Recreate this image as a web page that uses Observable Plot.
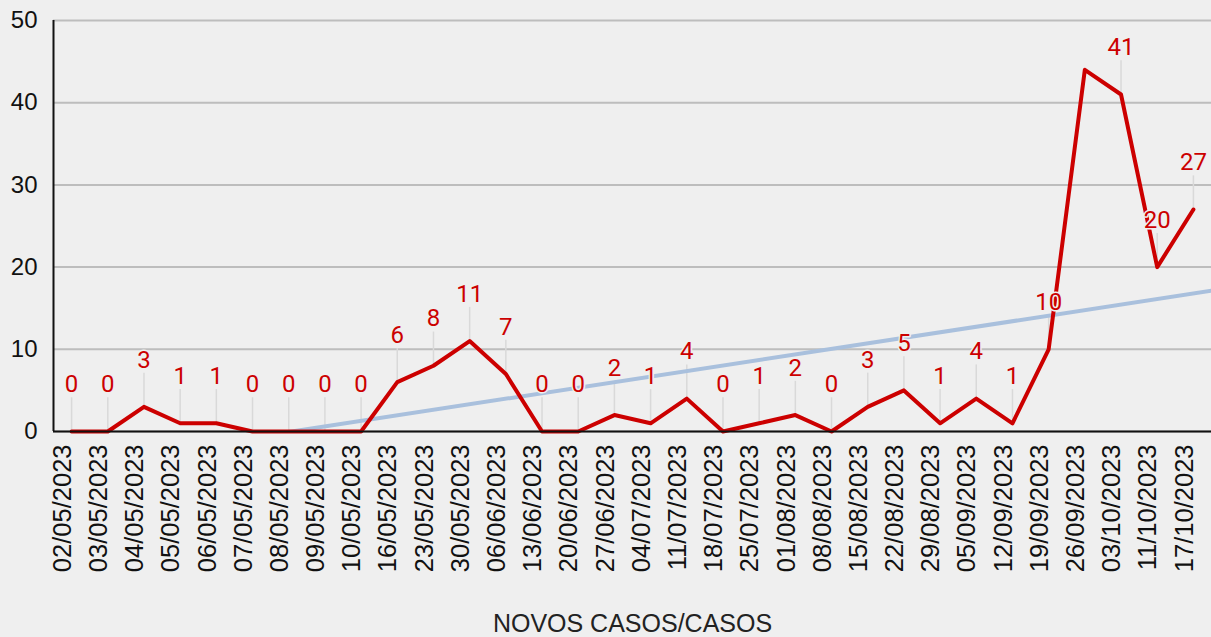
<!DOCTYPE html>
<html><head><meta charset="utf-8">
<script src="https://cdn.jsdelivr.net/npm/d3@7"></script>
<script src="https://cdn.jsdelivr.net/npm/@observablehq/plot@0.6"></script>
<style>
html,body{margin:0;padding:0;background:#efefef;}
#chart svg{display:block}
</style></head><body><div id="chart"></div>
<script>
const dates = ["02/05/2023","03/05/2023","04/05/2023","05/05/2023","06/05/2023","07/05/2023","08/05/2023","09/05/2023","10/05/2023","16/05/2023","23/05/2023","30/05/2023","06/06/2023","13/06/2023","20/06/2023","27/06/2023","04/07/2023","11/07/2023","18/07/2023","25/07/2023","01/08/2023","08/08/2023","15/08/2023","22/08/2023","29/08/2023","05/09/2023","12/09/2023","19/09/2023","26/09/2023","03/10/2023","11/10/2023","17/10/2023"];
const cases = [0,0,3,1,1,0,0,0,0,6,8,11,7,0,0,2,1,4,0,1,2,0,3,5,1,4,1,10,44,41,20,27];
const unlabeled = ["26/09/2023"];
const yTicks = [0,10,20,30,40,50];
const axisTitle = "NOVOS CASOS/CASOS";

const data = dates.map((d,i)=>({i, date:d, v:cases[i]}));
const labeled = data.filter(d=>!unlabeled.includes(d.date));
const n = data.length;
const mx = d3.mean(data, d=>d.i), my = d3.mean(data, d=>d.v);
const slope = d3.sum(data, d=>(d.i-mx)*(d.v-my))/d3.sum(data, d=>(d.i-mx)**2);
const icpt = my - slope*mx;
const trend = [-0.5, n-0.5].map(x=>({x, y: icpt+slope*x}));

const chart = Plot.plot({
  width:1211, height:637,
  marginTop:20, marginLeft:53, marginRight:0, marginBottom:206,
  style:{background:"#efefef", fontFamily:"'Liberation Sans', Arial, sans-serif", overflow:"visible"},
  x:{type:"linear", domain:[-0.5, n-0.5]},
  y:{domain:[0,50]},
  marks:[
    Plot.gridY(yTicks, {stroke:"#bdbdbd", strokeOpacity:1, strokeWidth:2}),
    Plot.axisY(yTicks, {tickSize:0, tickPadding:16, fontSize:24, fill:"#111", label:null}),
    Plot.axisX(d3.range(n), {tickSize:0, tickPadding:13, tickRotate:-90, tickFormat:i=>dates[i], fontSize:25.5, fill:"#111", label:null, dx:-9}),
    Plot.ruleX(labeled, {x:"i", y1:"v", y2:d=>d.v+4.1, stroke:"#d9d9d9", strokeWidth:1.5}),
    Plot.line(trend, {x:"x", y:"y", stroke:"#a9c0dd", strokeWidth:4, clip:true}),
    Plot.line(data, {x:"i", y:"v", stroke:"#cc0000", strokeWidth:4}),
    Plot.text(labeled, {x:"i", y:"v", text:d=>String(d.v), dy:-47, fill:"#cc0000", fontSize:24, fontFamily:"Roboto", stroke:"#efefef", strokeWidth:3}),
    Plot.ruleX([-0.5], {stroke:"#111", strokeWidth:2}),
    Plot.ruleY([0], {stroke:"#111", strokeWidth:2}),
    Plot.text([axisTitle], {text:d=>d, frameAnchor:"bottom", dy:200, lineAnchor:"bottom", fontSize:25, fill:"#222"})
  ]
});
document.getElementById("chart").append(chart);
</script></body></html>
